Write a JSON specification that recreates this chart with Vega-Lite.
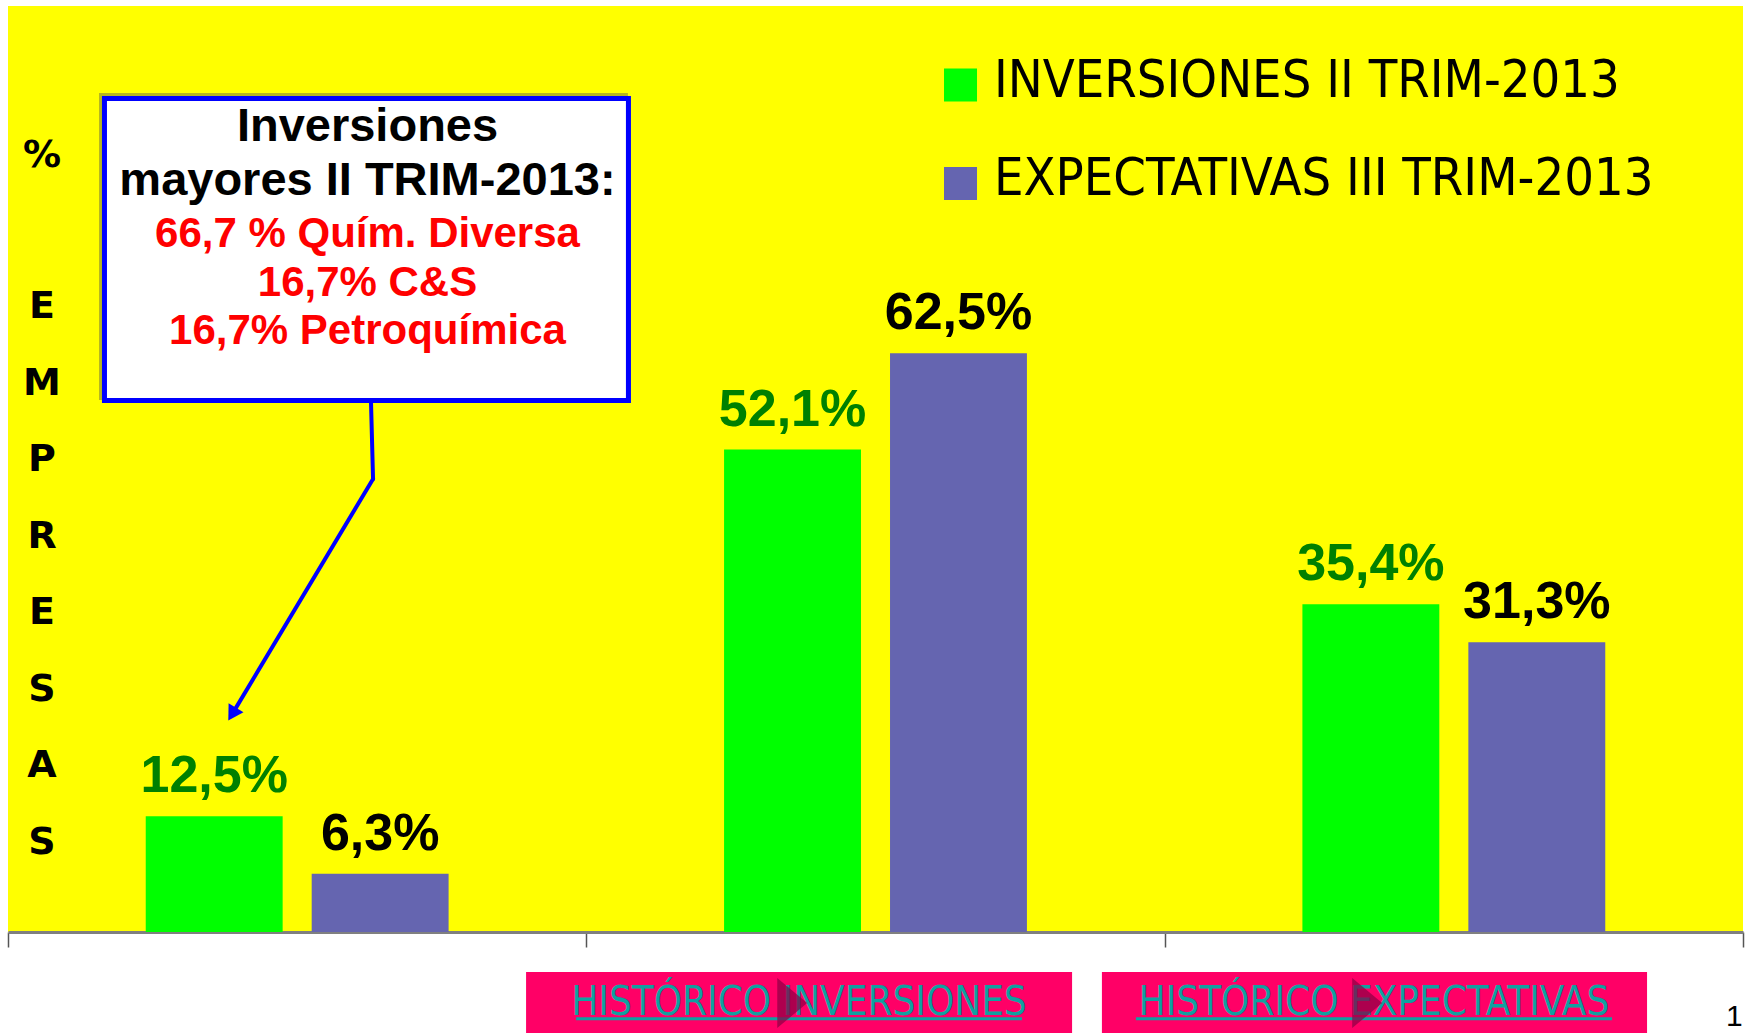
{
  "$schema": "https://vega.github.io/schema/vega-lite/v6.json",
  "width": 1735,
  "height": 926,
  "autosize": {"type": "none"},
  "padding": {"left": 8, "top": 6, "right": 2, "bottom": 101},
  "background": "#ffffff",
  "config": {"view": {"fill": "#FFFF00", "stroke": null}, "text": {"font": "Liberation Sans"}},
  "layer": [
    {
      "data": {
        "values": [
          {"grupo": "Mayores", "serie": "INVERSIONES II TRIM-2013", "valor": 12.5, "etiqueta": "12,5%"},
          {"grupo": "Mayores", "serie": "EXPECTATIVAS III TRIM-2013", "valor": 6.3, "etiqueta": "6,3%"},
          {"grupo": "Iguales", "serie": "INVERSIONES II TRIM-2013", "valor": 52.1, "etiqueta": "52,1%"},
          {"grupo": "Iguales", "serie": "EXPECTATIVAS III TRIM-2013", "valor": 62.5, "etiqueta": "62,5%"},
          {"grupo": "Menores", "serie": "INVERSIONES II TRIM-2013", "valor": 35.4, "etiqueta": "35,4%"},
          {"grupo": "Menores", "serie": "EXPECTATIVAS III TRIM-2013", "valor": 31.3, "etiqueta": "31,3%"}
        ]
      },
      "encoding": {
        "x": {
          "field": "grupo", "type": "nominal", "sort": ["Mayores", "Iguales", "Menores"],
          "scale": {"paddingInner": 0, "paddingOuter": 0},
          "axis": {"title": null, "labels": false, "domainColor": "#808080", "domainWidth": 3, "ticks": true, "tickColor": "#555555", "tickWidth": 1.5, "tickSize": 15, "tickBand": "extent", "grid": false}
        },
        "xOffset": {
          "field": "serie", "type": "nominal", "sort": ["INVERSIONES II TRIM-2013", "EXPECTATIVAS III TRIM-2013"],
          "scale": {"paddingInner": 0.175, "paddingOuter": 0.83}
        },
        "y": {"field": "valor", "type": "quantitative", "scale": {"domain": [0, 100], "nice": false, "zero": true}, "axis": null}
      },
      "layer": [
        {
          "mark": {"type": "bar"},
          "encoding": {
            "color": {"field": "serie", "type": "nominal", "scale": {"domain": ["INVERSIONES II TRIM-2013", "EXPECTATIVAS III TRIM-2013"], "range": ["#00FF00", "#6565b0"]}, "legend": null}
          }
        },
        {
          "transform": [{"filter": "datum.serie === 'INVERSIONES II TRIM-2013'"}],
          "mark": {"type": "text", "font": "Liberation Sans", "fontWeight": "bold", "fontSize": 52, "color": "#008000", "dy": -24, "baseline": "alphabetic", "align": "center"},
          "encoding": {"text": {"field": "etiqueta"}}
        },
        {
          "transform": [{"filter": "datum.serie === 'EXPECTATIVAS III TRIM-2013'"}],
          "mark": {"type": "text", "font": "Liberation Sans", "fontWeight": "bold", "fontSize": 52, "color": "#000000", "dy": -24, "baseline": "alphabetic", "align": "center"},
          "encoding": {"text": {"field": "etiqueta"}}
        }
      ]
    },
    {
      "data": {"values": [{}]},
      "layer": [
        {
          "mark": {"type": "rect", "fill": "#7a7a3a", "opacity": 0.55},
          "encoding": {
            "x": {"datum": 5.245, "type": "quantitative", "scale": {"domain": [0, 100]}, "axis": null},
            "x2": {"datum": 35.73},
            "y": {"datum": 90.6, "type": "quantitative", "axis": null},
            "y2": {"datum": 57.45}
          }
        },
        {
          "mark": {"type": "rect", "fill": "#ffffff", "stroke": "#0000FF", "strokeWidth": 5},
          "encoding": {
            "x": {"datum": 5.56, "type": "quantitative", "scale": {"domain": [0, 100]}, "axis": null},
            "x2": {"datum": 35.76},
            "y": {"datum": 90.01, "type": "quantitative", "axis": null},
            "y2": {"datum": 57.4}
          }
        },
        {
          "mark": {"type": "rule", "color": "#0000FF", "strokeWidth": 4, "strokeCap": "round"},
          "encoding": {
            "x": {"datum": 20.92, "type": "quantitative", "scale": {"domain": [0, 100]}, "axis": null},
            "x2": {"datum": 21.04},
            "y": {"datum": 57.4, "type": "quantitative", "axis": null},
            "y2": {"datum": 48.92}
          }
        },
        {
          "mark": {"type": "rule", "color": "#0000FF", "strokeWidth": 4, "strokeCap": "round"},
          "encoding": {
            "x": {"datum": 21.04, "type": "quantitative", "scale": {"domain": [0, 100]}, "axis": null},
            "x2": {"datum": 12.92},
            "y": {"datum": 48.92, "type": "quantitative", "axis": null},
            "y2": {"datum": 23.53}
          }
        },
        {
          "mark": {"type": "point", "shape": "triangle-down", "filled": true, "color": "#0000FF", "opacity": 1, "size": 300, "angle": 31},
          "encoding": {
            "x": {"datum": 12.92, "type": "quantitative", "scale": {"domain": [0, 100]}, "axis": null},
            "y": {"datum": 23.53, "type": "quantitative", "axis": null}
          }
        },
        {
          "mark": {"type": "text", "text": "Inversiones", "font": "Liberation Sans", "fontWeight": "bold", "fontSize": 47, "color": "#000000", "align": "center", "baseline": "alphabetic"},
          "encoding": {
            "x": {"datum": 20.72, "type": "quantitative", "scale": {"domain": [0, 100]}, "axis": null},
            "y": {"datum": 85.42, "type": "quantitative", "axis": null}
          }
        },
        {
          "mark": {"type": "text", "text": "mayores II TRIM-2013:", "font": "Liberation Sans", "fontWeight": "bold", "fontSize": 47, "color": "#000000", "align": "center", "baseline": "alphabetic"},
          "encoding": {
            "x": {"datum": 20.72, "type": "quantitative", "scale": {"domain": [0, 100]}, "axis": null},
            "y": {"datum": 79.59, "type": "quantitative", "axis": null}
          }
        },
        {
          "mark": {"type": "text", "text": "66,7 % Quím. Diversa", "font": "Liberation Sans", "fontWeight": "bold", "fontSize": 42, "color": "#FF0000", "align": "center", "baseline": "alphabetic"},
          "encoding": {
            "x": {"datum": 20.72, "type": "quantitative", "scale": {"domain": [0, 100]}, "axis": null},
            "y": {"datum": 73.97, "type": "quantitative", "axis": null}
          }
        },
        {
          "mark": {"type": "text", "text": "16,7% C&S", "font": "Liberation Sans", "fontWeight": "bold", "fontSize": 42, "color": "#FF0000", "align": "center", "baseline": "alphabetic"},
          "encoding": {
            "x": {"datum": 20.72, "type": "quantitative", "scale": {"domain": [0, 100]}, "axis": null},
            "y": {"datum": 68.68, "type": "quantitative", "axis": null}
          }
        },
        {
          "mark": {"type": "text", "text": "16,7% Petroquímica", "font": "Liberation Sans", "fontWeight": "bold", "fontSize": 42, "color": "#FF0000", "align": "center", "baseline": "alphabetic"},
          "encoding": {
            "x": {"datum": 20.72, "type": "quantitative", "scale": {"domain": [0, 100]}, "axis": null},
            "y": {"datum": 63.5, "type": "quantitative", "axis": null}
          }
        },
        {
          "mark": {"type": "text", "text": "%", "font": "DejaVu Sans", "fontWeight": "bold", "fontSize": 38, "color": "#000000", "align": "center", "baseline": "middle"},
          "encoding": {
            "x": {"datum": 1.96, "type": "quantitative", "scale": {"domain": [0, 100]}, "axis": null},
            "y": {"datum": 83.8, "type": "quantitative", "axis": null}
          }
        },
        {
          "mark": {"type": "text", "text": ["E", "M", "P", "R", "E", "S", "A", "S"], "lineHeight": 76.5, "font": "DejaVu Sans", "fontWeight": "bold", "fontSize": 38, "color": "#000000", "align": "center", "baseline": "middle"},
          "encoding": {
            "x": {"datum": 1.96, "type": "quantitative", "scale": {"domain": [0, 100]}, "axis": null},
            "y": {"datum": 67.47, "type": "quantitative", "axis": null}
          }
        },
        {
          "mark": {"type": "point", "shape": "square", "filled": true, "color": "#00FF00", "opacity": 1, "size": 1089},
          "encoding": {
            "x": {"datum": 54.9, "type": "quantitative", "scale": {"domain": [0, 100]}, "axis": null},
            "y": {"datum": 91.47, "type": "quantitative", "axis": null}
          }
        },
        {
          "mark": {"type": "point", "shape": "square", "filled": true, "color": "#6565b0", "opacity": 1, "size": 1089},
          "encoding": {
            "x": {"datum": 54.9, "type": "quantitative", "scale": {"domain": [0, 100]}, "axis": null},
            "y": {"datum": 80.83, "type": "quantitative", "axis": null}
          }
        },
        {
          "mark": {"type": "text", "text": "INVERSIONES II TRIM-2013", "font": "DejaVu Sans Condensed", "fontSize": 52, "color": "#000000", "align": "left", "baseline": "alphabetic"},
          "encoding": {
            "x": {"datum": 56.83, "type": "quantitative", "scale": {"domain": [0, 100]}, "axis": null},
            "y": {"datum": 90.17, "type": "quantitative", "axis": null}
          }
        },
        {
          "mark": {"type": "text", "text": "EXPECTATIVAS III TRIM-2013", "font": "DejaVu Sans Condensed", "fontSize": 52, "color": "#000000", "align": "left", "baseline": "alphabetic"},
          "encoding": {
            "x": {"datum": 56.83, "type": "quantitative", "scale": {"domain": [0, 100]}, "axis": null},
            "y": {"datum": 79.59, "type": "quantitative", "axis": null}
          }
        },
        {
          "mark": {"type": "rect", "fill": "#FF0066"},
          "encoding": {
            "x": {"datum": 29.86, "type": "quantitative", "scale": {"domain": [0, 100]}, "axis": null},
            "x2": {"datum": 61.33},
            "y": {"datum": -4.32, "type": "quantitative", "axis": null},
            "y2": {"datum": -11.5}
          }
        },
        {
          "mark": {"type": "rect", "fill": "#FF0066"},
          "encoding": {
            "x": {"datum": 63.05, "type": "quantitative", "scale": {"domain": [0, 100]}, "axis": null},
            "x2": {"datum": 94.47},
            "y": {"datum": -4.32, "type": "quantitative", "axis": null},
            "y2": {"datum": -11.5}
          }
        },
        {
          "mark": {"type": "text", "text": "HISTÓRICO INVERSIONES", "font": "DejaVu Sans Condensed", "fontSize": 40, "color": "#10a0a0", "align": "center", "baseline": "alphabetic"},
          "encoding": {
            "x": {"datum": 45.59, "type": "quantitative", "scale": {"domain": [0, 100]}, "axis": null},
            "y": {"datum": -8.96, "type": "quantitative", "axis": null}
          }
        },
        {
          "mark": {"type": "text", "text": "HISTÓRICO EXPECTATIVAS", "font": "DejaVu Sans Condensed", "fontSize": 40, "color": "#10a0a0", "align": "center", "baseline": "alphabetic"},
          "encoding": {
            "x": {"datum": 78.73, "type": "quantitative", "scale": {"domain": [0, 100]}, "axis": null},
            "y": {"datum": -8.96, "type": "quantitative", "axis": null}
          }
        },
        {
          "mark": {"type": "rule", "color": "#10a0a0", "strokeWidth": 3},
          "encoding": {
            "x": {"datum": 32.74, "type": "quantitative", "scale": {"domain": [0, 100]}, "axis": null},
            "x2": {"datum": 58.44},
            "y": {"datum": -9.36, "type": "quantitative", "axis": null}
          }
        },
        {
          "mark": {"type": "rule", "color": "#10a0a0", "strokeWidth": 3},
          "encoding": {
            "x": {"datum": 65.01, "type": "quantitative", "scale": {"domain": [0, 100]}, "axis": null},
            "x2": {"datum": 92.45},
            "y": {"datum": -9.36, "type": "quantitative", "axis": null}
          }
        },
        {
          "mark": {"type": "point", "shape": "M -0.6,-1 L 0.6,0 L -0.6,1 Z", "filled": true, "color": "#8a0045", "opacity": 0.7, "size": 2500},
          "encoding": {
            "x": {"datum": 45.2, "type": "quantitative", "scale": {"domain": [0, 100]}, "axis": null},
            "y": {"datum": -7.67, "type": "quantitative", "axis": null}
          }
        },
        {
          "mark": {"type": "point", "shape": "M -0.6,-1 L 0.6,0 L -0.6,1 Z", "filled": true, "color": "#8a0045", "opacity": 0.7, "size": 2500},
          "encoding": {
            "x": {"datum": 78.34, "type": "quantitative", "scale": {"domain": [0, 100]}, "axis": null},
            "y": {"datum": -7.67, "type": "quantitative", "axis": null}
          }
        },
        {
          "mark": {"type": "text", "text": "1", "font": "Liberation Sans", "fontSize": 30, "color": "#000000", "align": "center", "baseline": "alphabetic"},
          "encoding": {
            "x": {"datum": 99.5, "type": "quantitative", "scale": {"domain": [0, 100]}, "axis": null},
            "y": {"datum": -10.15, "type": "quantitative", "axis": null}
          }
        }
      ]
    }
  ],
  "resolve": {"scale": {"x": "independent"}}
}
